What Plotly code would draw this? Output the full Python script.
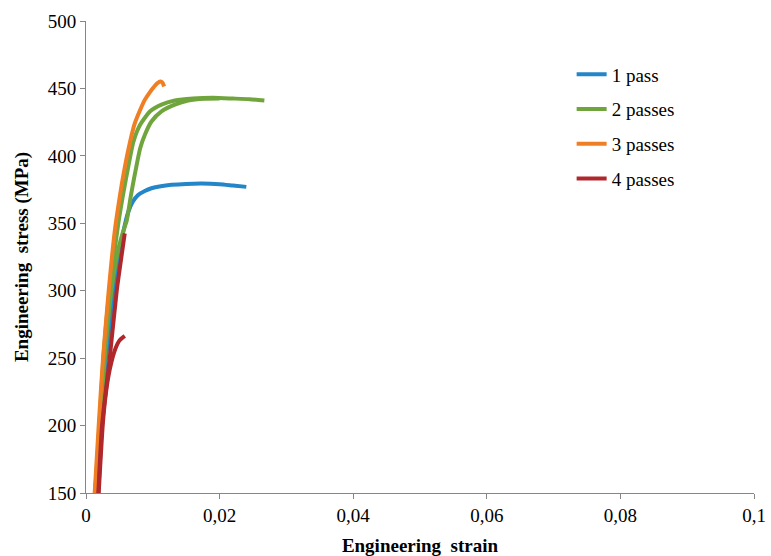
import plotly.graph_objects as go

# 1 pass
x1 = [0.00135, 0.0021, 0.0030, 0.0042, 0.0050, 0.0056, 0.0063, 0.0070, 0.0078, 0.0088, 0.0098, 0.0112, 0.0128, 0.015, 0.0173, 0.020, 0.022, 0.024]
y1 = [150, 200, 250, 300, 328, 344, 358, 366, 371, 374, 376, 377.5, 378.5, 379.2, 379.5, 379, 378, 377]

# 2 passes (two specimens)
x2 = [0.0014, 0.0020, 0.0026, 0.0035, 0.0042, 0.0049, 0.0055, 0.0061, 0.0071, 0.0081, 0.0096, 0.0113, 0.0133, 0.016, 0.019, 0.022, 0.0245, 0.0267,
      None,
      0.0015, 0.0021, 0.0028, 0.0038, 0.0048, 0.0055, 0.0061, 0.0067, 0.0073, 0.0081, 0.0088, 0.0098, 0.0113, 0.0133, 0.0153, 0.0178, 0.020]
y2 = [150, 200, 250, 300, 327, 352, 370, 386, 410.5, 423, 433, 438, 441, 442.5, 443, 442.5, 442, 441,
      None,
      150, 200, 250, 300, 330, 343, 352, 370, 386, 405.5, 415.5, 425.5, 433, 438, 441, 442.3, 442.5]

# 3 passes
x3 = [0.0013, 0.0019, 0.00255, 0.0034, 0.0043, 0.0050, 0.0056, 0.0066, 0.0073, 0.0081, 0.0088, 0.0096, 0.0104, 0.0110, 0.0114, 0.0117]
y3 = [150, 200, 250, 300, 344, 368, 386, 410.5, 424, 434, 441.5, 447.5, 452.5, 455, 454.5, 451.5]

# 4 passes (two specimens)
x4 = [0.00185, 0.0024, 0.00355, 0.0046, 0.0053, 0.0058,
      None,
      0.0019, 0.0025, 0.0029, 0.0033, 0.0038, 0.0044, 0.0050, 0.0058]
y4 = [150, 200, 250, 300, 325, 342.5,
      None,
      150, 200, 221, 235, 247, 257, 263, 266.5]

names = ["1 pass", "2 passes", "3 passes", "4 passes"]
colors = ["#2386C8", "#6FA53C", "#F07F23", "#B0282C"]
xs = [x1, x2, x3, x4]
ys = [y1, y2, y3, y4]

fig = go.Figure()
for n, c, x, y in zip(names, colors, xs, ys):
    fig.add_trace(go.Scatter(x=x, y=y, mode="lines", name=n, legendgroup=n,
                             line=dict(color=c, width=4, shape="spline", smoothing=0.6),
                             connectgaps=False))

font = "Liberation Serif, Times New Roman, serif"
fig.update_layout(
    width=771, height=556,
    margin=dict(l=86, r=17, t=21, b=63),
    paper_bgcolor="white", plot_bgcolor="white",
    font=dict(family=font, size=19, color="black"),
    showlegend=True,
    legend=dict(x=0.727, y=0.927, xanchor="left", yanchor="top",
                font=dict(family=font, size=19, color="black"),
                tracegroupgap=7, bgcolor="rgba(0,0,0,0)"),
    xaxis=dict(range=[0, 0.1], showgrid=False, zeroline=False, automargin=False,
               showline=True, linecolor="#868686", linewidth=1,
               ticks="outside", ticklen=5, tickcolor="#868686",
               tickvals=[0, 0.02, 0.04, 0.06, 0.08, 0.1],
               ticktext=["0", "0,02", "0,04", "0,06", "0,08", "0,1"],
               title=dict(text="<b>Engineering  strain</b>", standoff=14,
                          font=dict(family=font, size=19))),
    yaxis=dict(range=[150, 500], dtick=50, showgrid=False, zeroline=False, automargin=False,
               showline=True, linecolor="#868686", linewidth=1,
               ticks="outside", ticklen=5, tickcolor="#868686",
               title=dict(text="<b>Engineering  stress (MPa)</b>", standoff=14,
                          font=dict(family=font, size=19))),
)
fig.write_html("out.html")
